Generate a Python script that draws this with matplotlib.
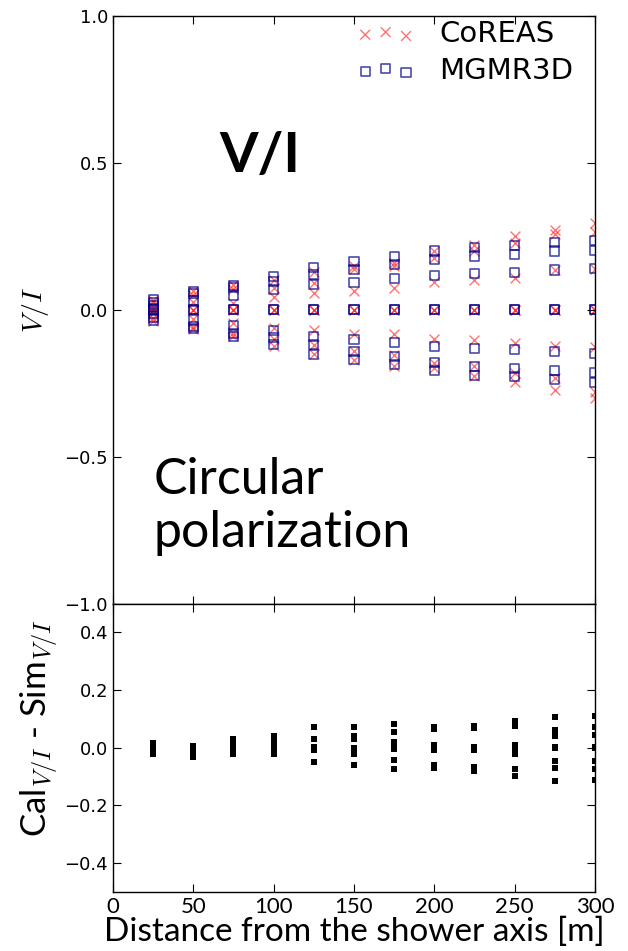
import numpy as np
import matplotlib
matplotlib.use("Agg")
import matplotlib.pyplot as plt

plt.rcParams['mathtext.fontset'] = 'cm'
plt.rcParams['font.family'] = ['DejaVu Sans']

# distance of each antenna ring from the shower axis [m]
distance = [25, 50, 75, 100, 125, 150, 175, 200, 225, 250, 275, 300]

# V/I per antenna on each ring, CoREAS
coreas_vi = [
    [0.033, 0.027, 0.010, 0.0, 0.0, -0.010, -0.027, -0.038],
    [0.064, 0.050, 0.028, 0.0, 0.0, -0.030, -0.060, -0.066],
    [0.085, 0.070, 0.022, 0.0, 0.0, -0.045, -0.080, -0.090],
    [0.100, 0.075, 0.043, 0.0, 0.0, -0.063, -0.100, -0.125],
    [0.130, 0.090, 0.056, 0.0, 0.0, -0.068, -0.120, -0.150],
    [0.150, 0.140, 0.064, 0.0, 0.0, -0.083, -0.140, -0.170],
    [0.160, 0.150, 0.073, 0.0, 0.0, -0.083, -0.155, -0.190],
    [0.200, 0.175, 0.094, 0.0, 0.0, -0.100, -0.180, -0.200],
    [0.220, 0.200, 0.100, 0.0, 0.0, -0.104, -0.190, -0.225],
    [0.250, 0.227, 0.107, 0.0, 0.0, -0.114, -0.216, -0.247],
    [0.271, 0.257, 0.135, 0.0, 0.0, -0.124, -0.233, -0.274],
    [0.295, 0.264, 0.140, 0.0, 0.0, -0.128, -0.281, -0.302],
]

# V/I per antenna on each ring, MGMR3D
mgmr3d_vi = [
    [0.035, 0.025, 0.013, 0.0, 0.0, -0.013, -0.025, -0.035],
    [0.062, 0.055, 0.030, 0.0, 0.0, -0.035, -0.058, -0.064],
    [0.082, 0.075, 0.049, 0.0, 0.0, -0.053, -0.082, -0.092],
    [0.114, 0.097, 0.070, 0.0, 0.0, -0.070, -0.094, -0.118],
    [0.143, 0.121, 0.085, 0.0, 0.0, -0.090, -0.118, -0.152],
    [0.163, 0.138, 0.094, 0.0, 0.0, -0.100, -0.141, -0.169],
    [0.182, 0.155, 0.107, 0.0, 0.0, -0.111, -0.158, -0.186],
    [0.200, 0.172, 0.117, 0.0, 0.0, -0.124, -0.179, -0.206],
    [0.213, 0.183, 0.124, 0.0, 0.0, -0.131, -0.193, -0.223],
    [0.220, 0.189, 0.128, 0.0, 0.0, -0.135, -0.200, -0.227],
    [0.230, 0.200, 0.135, 0.0, 0.0, -0.141, -0.206, -0.237],
    [0.237, 0.203, 0.141, 0.0, 0.0, -0.148, -0.213, -0.247],
]

# Cal - Sim residuals per antenna
residual_vi = [
    [0.016, 0.010, 0.005, 0.0, 0.0, -0.008, -0.015, -0.021],
    [0.005, 0.0, -0.005, 0.0, 0.0, -0.015, -0.025, -0.032],
    [0.030, 0.020, 0.010, 0.0, 0.0, -0.005, -0.015, -0.021],
    [0.042, 0.030, 0.020, 0.0, 0.0, 0.005, -0.010, -0.021],
    [0.073, 0.031, 0.003, 0.0, -0.004, -0.006, -0.051, 0.031],
    [0.073, 0.042, 0.031, 0.0, -0.012, -0.021, -0.060, 0.036],
    [0.082, 0.053, 0.019, 0.008, -0.003, -0.044, -0.074, 0.019],
    [0.071, 0.066, 0.008, -0.006, -0.059, -0.070, 0.0, 0.066],
    [0.075, 0.070, 0.001, -0.006, -0.065, -0.082, 0.0, -0.070],
    [0.092, 0.074, 0.008, -0.021, -0.072, -0.097, 0.0, -0.010],
    [0.106, 0.061, 0.041, 0.0, -0.045, -0.069, -0.115, 0.003],
    [0.111, 0.071, 0.045, 0.003, -0.047, -0.073, -0.112, 0.0],
]


def flatten(values):
    xs = np.repeat(distance, [len(v) for v in values])
    ys = np.concatenate(values)
    return xs, ys


fig = plt.figure(figsize=(6.28, 9.51), dpi=100)
ax_top = fig.add_axes([0.1799, 0.3654, 0.7675, 0.6178])
ax_bot = fig.add_axes([0.1799, 0.0620, 0.7675, 0.3034], sharex=ax_top)

x, y = flatten(coreas_vi)
ax_top.scatter(x, y, marker='x', s=50, color='red', alpha=0.55,
               linewidths=1.0, label='CoREAS')
x, y = flatten(mgmr3d_vi)
ax_top.scatter(x, y, marker='s', s=44, facecolors='none', edgecolors='darkblue',
               alpha=0.7, linewidths=1.2, label='MGMR3D')

ax_top.set_xlim(0, 300)
ax_top.set_ylim(-1.0, 1.0)
ax_top.set_yticks([-1.0, -0.5, 0.0, 0.5, 1.0])
ax_top.set_xticks(range(0, 301, 50))
ax_top.tick_params(labelbottom=False)
ax_top.set_ylabel('$V/I$', fontsize=20, labelpad=10)

leg = ax_top.legend(loc='upper right', bbox_to_anchor=(0.965, 1.0),
                    frameon=False, scatterpoints=3,
                    fontsize=21, handletextpad=0.85, labelspacing=0.3,
                    borderaxespad=0.0, borderpad=0.15)

ax_top.text(0.305, 0.762, 'V/I', transform=ax_top.transAxes, fontsize=40,
            fontweight='bold', family='Lato', ha='center', va='center')
ax_top.text(0.085, 0.165, 'Circular\npolarization', transform=ax_top.transAxes,
            fontsize=36, family='Lato', ha='left', va='center', linespacing=1.2)

x, y = flatten(residual_vi)
ax_bot.scatter(x, y, marker='s', s=20, color='black', linewidths=0)
ax_bot.set_ylim(-0.5, 0.5)
ax_bot.set_yticks([-0.4, -0.2, 0.0, 0.2, 0.4])
ax_bot.set_ylabel('Cal$_{V/I}$ - Sim$_{V/I}$', fontsize=25, family='Lato')
ax_bot.yaxis.set_label_coords(-0.108, 0.57)
ax_bot.set_xlabel('Distance from the shower axis [m]', fontsize=24,
                  family='Lato', labelpad=0)
for lbl in ax_bot.get_xticklabels():
    lbl.set_family('Lato')
    lbl.set_fontsize(16)

for ax in (ax_top, ax_bot):
    ax.tick_params(direction='in', top=True, right=True, length=6, width=0.8)
    ax.tick_params(axis='y', labelsize=13)
    for sp in ax.spines.values():
        sp.set_linewidth(1.0)

fig.savefig('out.png', dpi=100)
